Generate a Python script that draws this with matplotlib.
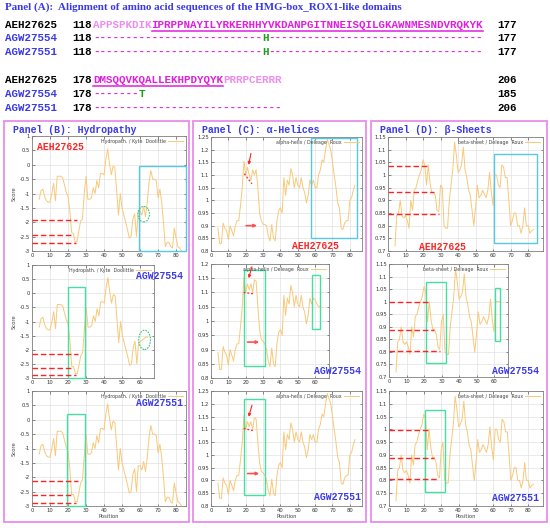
import matplotlib
matplotlib.use('Agg')
import matplotlib.pyplot as plt
from matplotlib.patches import Rectangle, Ellipse
from matplotlib.ticker import MultipleLocator, FuncFormatter

plt.rcParams['axes.unicode_minus'] = False

W, H = 550, 528
MONO = ['Liberation Mono', 'DejaVu Sans Mono']
BLUE = '#3a3ae6'
RED = '#ff2424'
PINK = '#e98ce9'
MAG = '#e01ee0'
LIGHT = '#f08cf0'
GREEN = '#16a016'
CYAN = '#55c8e6'
MINT = '#44e0a0'
LINE = '#f9c878'

# ---------------- panel A: alignment ----------------
names = ['AEH27625', 'AGW27554', 'AGW27551']
name_colors = ['black', BLUE, BLUE]
blk1_start = [118, 118, 118]
blk1_end = [177, 177, 177]
blk2_start = [178, 178, 178]
blk2_end = [206, 185, 206]
ref1_flank = 'APPSPKDIK'
ref1_core = 'IPRPPNAYILYRKERHHYVKDANPGITNNEISQILGKAWNMESNDVRQKYK'
ref2_core = 'DMSQQVKQALLEKHPDYQYK'
ref2_flank = 'PRRPCERRR'
alt1 = ['--------------------------H---------------------------------',
        '--------------------------H---------------------------------']
alt2 = ['-------T', '-----------------------------']

# ---------------- profiles (position 4 onwards) ----------------
# hydropathy, Kyte-Doolittle
hyd_aeh = [-1.2, -0.9, -0.85, -1.1, -1.25, -1.3, -1.3, -1.0, -0.65, -1.25,
           -0.4, -0.4, -0.4, -0.45, -0.7, -0.95, -1.1, -1.6, -2.35, -2.4,
           -2.7, -2.65, -2.3, -1.95, -1.9, -1.0, -0.4, -1.2, -1.2, -1.15,
           -0.8, -1.0, -0.55, -0.8, -0.3, -0.3, -0.35, 0.2, 0.55, 0.05,
           -0.35, -0.05, -0.1, -0.9, -1.75, -1.0, -1.5, -1.75, -2.0, -2.25,
           -2.55, -2.5, -1.9, -1.7, -2.5, -1.6, -1.6, -1.75, -1.45, -1.8,
           -1.3, -0.6, -0.2, -0.5, -0.5, -0.55, -1.15, -0.85, -1.3, -2.0,
           -2.85, -2.7, -2.7, -2.85, -2.9, -2.2, -2.55, -2.85, -2.9, -3.0]
hyd_554 = [-1.2, -0.9, -0.85, -1.1, -1.25, -1.3, -1.3, -1.0, -0.65, -1.25,
           -0.4, -0.4, -0.4, -0.45, -0.7, -0.95, -1.1, -1.7, -2.6, -2.6,
           -2.85, -2.85, -2.55, -2.2, -2.1, -1.25, -0.5, -1.2, -1.2, -1.15,
           -0.8, -1.0, -0.55, -0.8, -0.3, -0.3, -0.35, 0.2, 0.55, 0.05,
           -0.35, -0.05, -0.1, -0.9, -1.75, -1.0, -1.5, -1.75, -2.0, -2.25,
           -2.55, -2.5, -1.9, -1.7, -2.5, -1.75, -1.7, -1.65, -1.6, -1.55,
           -1.55]
hyd_551 = [-1.2, -0.9, -0.85, -1.1, -1.25, -1.3, -1.3, -1.0, -0.65, -1.25,
           -0.4, -0.4, -0.4, -0.45, -0.7, -0.95, -1.1, -1.7, -2.6, -2.6,
           -2.85, -2.85, -2.55, -2.2, -2.1, -1.25, -0.5, -1.2, -1.2, -1.15,
           -0.8, -1.0, -0.55, -0.8, -0.3, -0.3, -0.35, 0.2, 0.55, 0.05,
           -0.35, -0.05, -0.1, -0.9, -1.75, -1.0, -1.5, -1.75, -2.0, -2.25,
           -2.55, -2.5, -1.9, -1.7, -2.5, -1.6, -1.6, -1.75, -1.45, -1.8,
           -1.3, -0.6, -0.2, -0.5, -0.5, -0.55, -1.15, -0.85, -1.3, -2.0,
           -2.85, -2.7, -2.7, -2.85, -2.9, -2.2, -2.55, -2.85, -2.9, -3.0]

# alpha-helix, Deleage & Roux
alpha_aeh = [0.89, 0.83, 0.83, 0.91, 0.89, 0.88, 0.845, 0.9, 0.88, 0.86,
             0.9, 0.92, 0.92, 0.98, 1.05, 1.155, 1.1, 1.13, 1.1, 1.08,
             1.12, 1.1, 1.12, 1.05, 0.95, 0.92, 0.905, 0.905, 0.9, 0.86,
             0.84, 0.905, 0.85, 0.84, 0.92, 0.96, 0.97, 0.95, 1.09, 1.02,
             1.08, 1.06, 1.125, 1.1, 1.05, 1.09, 1.06, 1.05, 1.09, 1.05,
             1.03, 0.99, 1.02, 1.08, 1.06, 1.08, 1.05, 1.05, 1.1, 1.12,
             1.16, 1.15, 1.2, 1.24, 1.22, 1.2, 1.15, 1.1, 1.05, 0.99,
             0.97, 0.89, 0.885, 0.91, 0.92, 0.92, 1.0, 1.01, 1.04, 1.06]
alpha_554 = [0.89, 0.83, 0.83, 0.91, 0.89, 0.88, 0.845, 0.9, 0.88, 0.86,
             0.9, 0.92, 0.92, 0.98, 1.05, 1.155, 1.1, 1.13, 1.11, 1.13,
             1.1, 1.145, 1.14, 1.05, 0.97, 0.935, 0.93, 0.92, 0.9, 0.86,
             0.84, 0.905, 0.85, 0.84, 0.92, 0.96, 0.97, 0.95, 1.09, 1.02,
             1.08, 1.06, 1.125, 1.1, 1.05, 1.09, 1.06, 1.05, 1.09, 1.05,
             1.03, 0.99, 1.02, 1.08, 1.06, 1.08, 1.075, 1.06, 1.05, 1.05]
alpha_551 = [0.89, 0.83, 0.83, 0.91, 0.89, 0.88, 0.845, 0.9, 0.88, 0.86,
             0.9, 0.92, 0.92, 0.98, 1.05, 1.155, 1.1, 1.13, 1.11, 1.13,
             1.1, 1.145, 1.14, 1.05, 0.97, 0.935, 0.93, 0.92, 0.9, 0.86,
             0.84, 0.905, 0.85, 0.84, 0.92, 0.96, 0.97, 0.95, 1.09, 1.02,
             1.08, 1.06, 1.125, 1.1, 1.05, 1.09, 1.06, 1.05, 1.09, 1.05,
             1.03, 0.99, 1.02, 1.08, 1.06, 1.08, 1.05, 1.05, 1.1, 1.12,
             1.16, 1.15, 1.2, 1.24, 1.22, 1.2, 1.15, 1.1, 1.05, 0.99,
             0.97, 0.89, 0.885, 0.91, 0.92, 0.92, 1.0, 1.01, 1.04, 1.06]

# beta-sheet, Deleage & Roux
beta_aeh = [0.72, 0.84, 0.85, 0.9, 0.84, 0.83, 0.84, 0.82, 0.79, 0.9,
            0.86, 0.94, 0.95, 0.98, 1.0, 1.02, 1.06, 1.04, 0.96, 1.04,
            0.97, 0.93, 0.93, 0.92, 0.86, 0.855, 0.96, 0.95, 0.8, 0.79,
            0.79, 0.9, 0.96, 1.02, 1.13, 1.08, 1.01, 1.02, 1.04, 1.11,
            1.02, 0.99, 0.94, 0.92, 0.86, 0.8, 0.87, 0.96, 0.91, 0.92,
            0.94, 0.925, 0.91, 0.94, 1.01, 0.93, 0.88, 1.0, 1.0, 0.96,
            0.95, 1.04, 1.03, 0.99, 0.99, 0.9, 0.8, 0.82, 0.85, 0.85,
            0.8, 0.8, 0.77, 0.8, 0.87, 0.8, 0.8, 0.77, 0.78, 0.785]
beta_554 = [0.72, 0.84, 0.85, 0.9, 0.84, 0.83, 0.84, 0.82, 0.79, 0.9,
            0.86, 0.94, 0.95, 0.98, 1.0, 1.02, 1.06, 1.04, 0.92, 1.0,
            0.93, 0.89, 0.89, 0.87, 0.82, 0.81, 0.92, 0.95, 0.8, 0.79,
            0.79, 0.9, 0.96, 1.02, 1.13, 1.08, 1.01, 1.02, 1.04, 1.11,
            1.02, 0.99, 0.94, 0.92, 0.86, 0.8, 0.87, 0.96, 0.91, 0.92,
            0.94, 0.925, 0.91, 0.94, 1.01, 0.93, 0.88, 1.0, 1.0, 1.0]
beta_551 = [0.72, 0.84, 0.85, 0.9, 0.84, 0.83, 0.84, 0.82, 0.79, 0.9,
            0.86, 0.94, 0.95, 0.98, 1.0, 1.02, 1.06, 1.04, 0.92, 1.0,
            0.93, 0.89, 0.89, 0.87, 0.82, 0.81, 0.92, 0.95, 0.8, 0.79,
            0.79, 0.9, 0.96, 1.02, 1.13, 1.08, 1.01, 1.02, 1.04, 1.11,
            1.02, 0.99, 0.94, 0.92, 0.86, 0.8, 0.87, 0.96, 0.91, 0.92,
            0.94, 0.925, 0.91, 0.94, 1.01, 0.93, 0.88, 1.0, 1.0, 0.96,
            0.95, 1.04, 1.03, 0.99, 0.99, 0.9, 0.8, 0.82, 0.85, 0.85,
            0.8, 0.8, 0.77, 0.8, 0.87, 0.8, 0.8, 0.77, 0.78, 0.785]
FIRST_POS = 4

legend_txt = {'B': 'Hydropath. / Kyte  Doolittle',
              'C': 'alpha-helix / Deleage  Roux',
              'D': 'beta-sheet / Deleage  Roux'}

# pixel boxes of the nine plots (left, top, right, bottom) and their x end
plots = [
    ('B', 'AEH27625', hyd_aeh, (32, 136, 186, 251), 85.5, (-3, 1), 0.5),
    ('B', 'AGW27554', hyd_554, (32, 265, 154, 378), 67.5, (-3, 1), 0.5),
    ('B', 'AGW27551', hyd_551, (32, 391, 186, 506), 85.5, (-3, 1), 0.5),
    ('C', 'AEH27625', alpha_aeh, (211, 137, 362, 251), 87, (0.8, 1.25), 0.05),
    ('C', 'AGW27554', alpha_554, (211, 264, 329, 378), 68, (0.8, 1.2), 0.05),
    ('C', 'AGW27551', alpha_551, (211, 391, 362, 506), 87, (0.8, 1.25), 0.05),
    ('D', 'AEH27625', beta_aeh, (388, 137, 543, 251), 88.5, (0.7, 1.15), 0.05),
    ('D', 'AGW27554', beta_554, (389, 264, 508, 377), 68, (0.7, 1.15), 0.05),
    ('D', 'AGW27551', beta_551, (389, 391, 543, 506), 88.5, (0.7, 1.15), 0.05),
]

# highlight boxes: (x0, y0, x1, y1, colour)
boxes = [
    [(59.5, -3.0, 85.3, -0.05, CYAN)],
    [(19.7, -3.0, 29.6, 0.21, MINT)],
    [(19.7, -3.0, 29.6, 0.21, MINT)],
    [(57.6, 0.85, 84.0, 1.247, CYAN)],
    [(19.2, 0.843, 31.1, 1.179, MINT), (58.0, 0.973, 62.8, 1.16, MINT)],
    [(19.2, 0.843, 31.1, 1.22, MINT)],
    [(60.4, 0.733, 85.1, 1.082, CYAN)],
    [(21.1, 0.756, 32.4, 1.077, MINT), (60.3, 0.844, 63.6, 1.056, MINT)],
    [(20.8, 0.755, 32.0, 1.077, MINT)],
]
# red dashed level marks: (level, x end)
levels = [
    [(-1.93, 25.0), (-2.43, 21.8), (-2.71, 24.2)],
    [(-2.14, 25.6), (-2.65, 21.6), (-2.88, 24.3)],
    [(-2.13, 25.7), (-2.63, 21.6), (-2.88, 24.4)],
    [], [], [],
    [(1.037, 22.9), (0.932, 26.3), (0.847, 29.0)],
    [(0.998, 22.2), (0.887, 25.9), (0.805, 28.9)],
    [(0.999, 22.2), (0.888, 25.9), (0.806, 28.9)],
]
# dotted ellipses: (cx, cy, w, h)
ellipses = [[(62.0, -1.72, 6.4, 0.54)], [(62.3, -1.65, 6.5, 0.68)], [],
            [], [], [], [], [], []]
# helix arrows: (solid arrow from, to), (dotted from, to), (flat arrow from, to)
helix_marks = {
    3: (((23.0, 1.185), (21.7, 1.14)), ((19.2, 1.105), (23.6, 1.065)), ((20.2, 0.9), (26.5, 0.9))),
    4: (((23.6, 1.19), (21.7, 1.15)), ((18.8, 1.10), (25.0, 1.095)), ((21.1, 0.926), (27.8, 0.926))),
    5: (((23.6, 1.194), (21.7, 1.149)), ((18.8, 1.103), (25.0, 1.094)), ((21.1, 0.927), (27.8, 0.927))),
}
# strain labels: (x px, y px)
label_pos = [(37, 147), (136, 276), (136, 403),
             (292, 246), (314, 371), (314, 497),
             (419, 247), (492, 371), (492, 498)]

fig = plt.figure(figsize=(W / 100, H / 100), dpi=100)


def px_axes(l, t, r, b):
    return fig.add_axes([l / W, 1 - b / H, (r - l) / W, (b - t) / H])


for k, (pan, strain, vals, pbox, xmax, ylim, ystep) in enumerate(plots):
    ax = px_axes(*pbox)
    pos = list(range(FIRST_POS, FIRST_POS + len(vals)))
    ax.plot(pos, vals, color=LINE, lw=0.7, label=legend_txt[pan])
    ax.set_xlim(0, xmax)
    ax.set_ylim(*ylim)
    ax.xaxis.set_major_locator(MultipleLocator(10))
    ax.yaxis.set_major_locator(MultipleLocator(ystep))
    ax.yaxis.set_major_formatter(FuncFormatter(lambda v, p: '%g' % round(v, 3)))
    ax.tick_params(direction='in', length=1.8, width=0.4, labelsize=3.8,
                   colors='#333333', top=True, right=True, pad=1.5)
    ax.grid(True, color='#e2e2e2', lw=0.5)
    for s in ax.spines.values():
        s.set_color('#808080')
        s.set_linewidth(0.6)
    ax.legend(loc='upper right', fontsize=3.4, frameon=False, handlelength=3.2,
              markerfirst=False, borderaxespad=0.15, handletextpad=0.5,
              labelcolor='#444444')
    if pan == 'B':
        ax.set_ylabel('Score', fontsize=3.8, labelpad=2, color='#444444')
    if k % 3 == 2:
        ax.set_xlabel('Position', fontsize=3.8, labelpad=1, color='#444444')

    for x0, y0, x1, y1, c in boxes[k]:
        ax.add_patch(Rectangle((x0, y0), x1 - x0, y1 - y0, fill=False,
                               ec=c, lw=1.0, clip_on=False, zorder=4))
    for lev, xe in levels[k]:
        ax.plot([0, xe], [lev, lev], color=RED, lw=1.0, ls=(0, (4, 2)), zorder=5)
    for cx, cy, w, h in ellipses[k]:
        ax.add_patch(Ellipse((cx, cy), w, h, fill=False, ec='#30c878',
                             lw=0.8, ls=(0, (1.5, 1)), zorder=5))
    if k in helix_marks:
        (a0, a1), (d0, d1), (f0, f1) = helix_marks[k]
        ax.annotate('', xy=a1, xytext=a0, zorder=6,
                    arrowprops=dict(arrowstyle='-|>', color=RED, lw=0.8,
                                    mutation_scale=4, shrinkA=0, shrinkB=0))
        ax.plot([d0[0], d1[0]], [d0[1], d1[1]], color=RED, lw=0.9,
                ls=(0, (1.5, 1.5)), zorder=6)
        ax.annotate('', xy=f1, xytext=f0, zorder=6,
                    arrowprops=dict(arrowstyle='-|>', color='#ff5050', lw=1.2,
                                    mutation_scale=4, shrinkA=0, shrinkB=0))

# ---------------- overlay: texts and panel frames ----------------
ov = fig.add_axes([0, 0, 1, 1], zorder=10)
ov.set_xlim(0, W)
ov.set_ylim(H, 0)
ov.axis('off')

FS_SEQ = 7.8
CW = 0.6 * FS_SEQ * 100 / 72
X_NAME, X_NUM, X_SEQ, X_END = 5, 72, 93, 497


def put(x, y, s, color, underline=False):
    ov.text(x, y, s, color=color, family=MONO, weight='bold', fontsize=FS_SEQ,
            ha='left', va='center')
    if underline:
        ov.plot([x, x + len(s) * CW], [y + 5.6, y + 5.6], color=color, lw=1.1)


def put_variant(y, s):
    i = 0
    while i < len(s):
        j = i
        while j < len(s) and (s[j] == '-') == (s[i] == '-'):
            j += 1
        put(X_SEQ + i * CW, y, s[i:j], MAG if s[i] == '-' else GREEN)
        i = j


ov.text(5, 7.5, 'Panel (A):  Alignment of amino acid sequences of the HMG-box_ROX1-like domains',
        family=['Liberation Serif', 'DejaVu Serif'], weight='bold', color=BLUE,
        fontsize=7.9, ha='left', va='center')

rows1 = [25, 38.3, 51.7]
rows2 = [80, 94, 108]
for i in range(3):
    for y, st, en in [(rows1[i], blk1_start[i], blk1_end[i]),
                      (rows2[i], blk2_start[i], blk2_end[i])]:
        put(X_NAME, y, names[i], name_colors[i])
        put(X_NUM, y, str(st), 'black')
        put(X_END, y, str(en), 'black')
put(X_SEQ, rows1[0], ref1_flank, LIGHT)
put(X_SEQ + len(ref1_flank) * CW, rows1[0], ref1_core, MAG, underline=True)
put(X_SEQ, rows2[0], ref2_core, MAG, underline=True)
put(X_SEQ + len(ref2_core) * CW, rows2[0], ref2_flank, LIGHT)
for i in range(2):
    put_variant(rows1[i + 1], alt1[i])
    put_variant(rows2[i + 1], alt2[i])

for l, r in [(4, 189), (193, 366), (371, 547)]:
    ov.add_patch(Rectangle((l, 121), r - l, 401, fill=False, ec=PINK, lw=1.3))

for x, t in [(13, 'Panel (B): Hydropathy'), (202, 'Panel (C): α-Helices'),
             (380, 'Panel (D): β-Sheets')]:
    ov.text(x, 130, t, family=MONO, weight='bold', color=BLUE, fontsize=7.1,
            ha='left', va='center')

for (pan, strain, *_), (x, y) in zip(plots, label_pos):
    ov.text(x, y, strain, family=MONO, weight='bold', fontsize=7.0,
            color=RED if strain == 'AEH27625' else BLUE, ha='left', va='center')

fig.savefig('out.png', dpi=100)
